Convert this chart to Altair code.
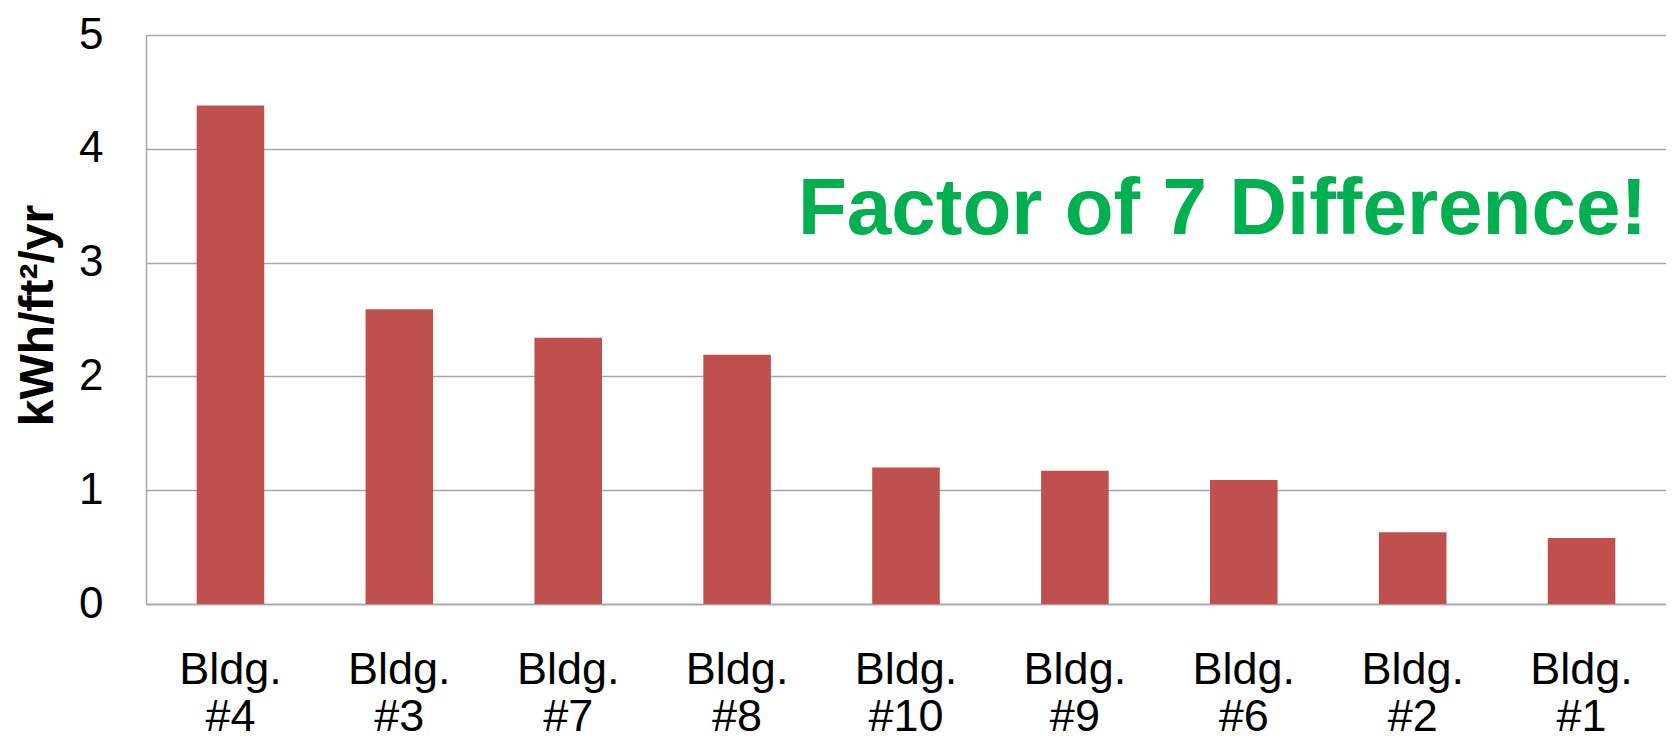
import altair as alt
import pandas as pd

buildings = ["Bldg.\n#4", "Bldg.\n#3", "Bldg.\n#7", "Bldg.\n#8", "Bldg.\n#10",
             "Bldg.\n#9", "Bldg.\n#6", "Bldg.\n#2", "Bldg.\n#1"]
values = [4.38, 2.59, 2.34, 2.19, 1.20, 1.17, 1.09, 0.63, 0.58]
y_ticks = [0, 1, 2, 3, 4, 5]
y_title = "kWh/ft\u00b2/yr"
annotation = ["Factor of 7 Difference!"]

FONT = "Liberation Sans, Arial, Helvetica, sans-serif"

df = pd.DataFrame({"building": buildings, "value": values})

bars = alt.Chart(df).mark_bar(color="#C0504D").encode(
    x=alt.X(
        "building:N",
        sort=buildings,
        scale=alt.Scale(paddingInner=0.6, paddingOuter=0.3),
        axis=alt.Axis(
            title=None,
            labelAngle=0,
            labelExpr="split(datum.label, '\\n')",
            labelFont=FONT,
            labelFontSize=45,
            labelColor="#000000",
            labelLineHeight=47,
            labelBaseline="top",
            labelPadding=43,
            ticks=False,
            tickSize=0,
            domainColor="#A6A6A6",
            domainWidth=1.5,
            grid=False,
        ),
    ),
    y=alt.Y(
        "value:Q",
        scale=alt.Scale(domain=[0, 5], nice=False),
        axis=alt.Axis(
            title=y_title,
            values=y_ticks,
            labelFont=FONT,
            labelFontSize=44,
            labelColor="#000000",
            labelPadding=43,
            ticks=False,
            tickSize=0,
            domainColor="#A6A6A6",
            domainWidth=1.5,
            gridColor="#A6A6A6",
            gridWidth=1.5,
            titleFont=FONT,
            titleFontSize=48,
            titleFontWeight="bold",
            titleColor="#000000",
            titleAngle=-90,
            titleAlign="center",
            titleBaseline="alphabetic",
            titleX=-94,
            titleY=280,
        ),
    ),
)

text = alt.Chart(pd.DataFrame({"t": annotation})).mark_text(
    font=FONT,
    fontSize=80,
    fontWeight="bold",
    color="#00B050",
    align="left",
    baseline="alphabetic",
).encode(
    text="t:N",
    x=alt.value(652),
    y=alt.value(199),
)

chart = alt.layer(bars, text).properties(
    width=1520,
    height=569,
    autosize=alt.AutoSizeParams(type="none"),
    padding={"left": 138, "top": 27, "right": 0, "bottom": 136},
).configure_view(stroke=None).configure(background="#FFFFFF")

chart.save("out.html", embed_options={"renderer": "svg", "actions": False})
